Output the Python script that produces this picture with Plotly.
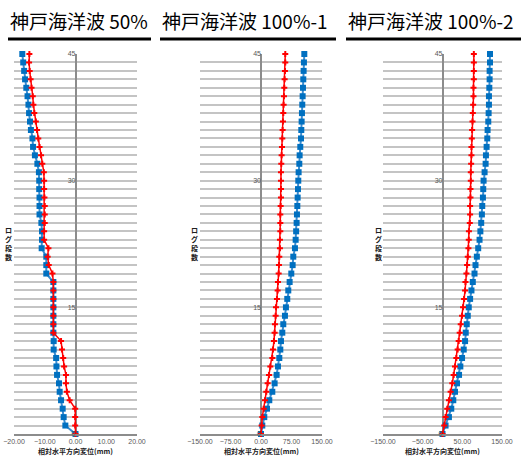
import plotly.graph_objects as go

levels = list(range(46))

titles = ["神戸海洋波 50%", "神戸海洋波 100%-1", "神戸海洋波 100%-2"]
x_title = "相対水平方向変位(mm)"
y_title = "ログ段数"

p1_red = [0, -0.1, -0.1, -0.1, -1.9, -2.8, -3.1, -3.1, -3.7, -4.0,
          -4.4, -4.7, -7.2, -7.2, -7.2, -7.2, -7.2, -7.2, -7.2, -7.5,
          -8.7, -9.05, -8.8, -10.2, -10.2, -10.0, -10.0, -10.0, -10.1, -10.2,
          -10.2, -10.3, -10.8, -11.2, -11.7, -12.1, -12.5, -12.9, -13.4, -13.7,
          -13.9, -14.3, -14.6, -14.9, -15.1, -15.0]
p1_blue = [0, -3.3, -3.85, -4.17, -4.7, -5.15, -5.37, -6.0, -6.2, -6.3,
           -7.1, -7.1, -7.2, -7.2, -7.2, -7.2, -7.2, -7.2, -7.2, -9.5,
           -9.5, -9.5, -11.0, -10.9, -10.9, -11.1, -11.7, -11.7, -11.7, -11.8,
           -11.8, -11.9, -12.4, -13.2, -13.8, -14.0, -14.5, -14.8, -15.1, -15.3,
           -15.6, -16.0, -16.4, -16.7, -17.0, -17.3]

p2_red = [0, 1.5, 3.2, 6.5, 9.8, 13.0, 16.3, 19.6, 22.9, 27.8,
          29.4, 31.9, 33.5, 34.3, 36.0, 36.8, 39.3, 40.9, 41.7, 43.4,
          44.2, 45.0, 46.6, 46.6, 47.5, 47.5, 47.5, 48.3, 49.1, 49.1,
          49.1, 49.1, 49.9, 50.7, 51.6, 52.4, 53.2, 54.0, 54.8, 55.6,
          56.5, 57.3, 58.1, 58.9, 59.7, 59.7]
p2_blue = [0, 3.2, 8.1, 14.7, 20.4, 27.8, 33.5, 38.4, 41.7, 45.0,
           47.5, 49.1, 52.4, 54.8, 58.9, 61.3, 64.6, 67.1, 70.4, 74.5,
           77.8, 79.4, 83.5, 85.2, 86.4, 87.6, 88.4, 89.3, 90.1, 90.9,
           91.7, 92.5, 94.2, 95.0, 96.6, 98.3, 99.1, 99.9, 100.7, 101.5,
           102.4, 103.2, 104.0, 104.8, 105.6, 106.5]

p3_red = [0, 4.3, 7.7, 12.0, 16.2, 20.4, 24.7, 28.1, 31.5, 34.9,
          38.2, 40.8, 43.3, 45.9, 49.3, 51.8, 54.4, 56.9, 57.8, 60.3,
          62.0, 63.7, 65.4, 66.2, 66.6, 68.8, 69.6, 69.6, 70.5, 70.5,
          71.3, 71.3, 72.2, 73.0, 73.0, 73.9, 74.7, 75.6, 76.4, 77.3,
          78.1, 78.1, 79.0, 79.0, 79.0, 79.0]
p3_blue = [0, 7.7, 16.2, 22.1, 27.2, 31.5, 36.6, 41.7, 45.0, 49.3,
           53.5, 56.9, 58.6, 61.1, 63.7, 66.2, 69.6, 73.0, 76.4, 80.7,
           83.2, 86.6, 90.0, 93.4, 95.5, 97.6, 99.3, 100.2, 101.9, 102.7,
           103.6, 106.1, 108.7, 109.5, 111.2, 112.9, 113.7, 115.4, 116.3, 117.1,
           117.1, 118.0, 118.8, 118.8, 119.7, 119.7]

x_ranges = [[-20, 20], [-150, 150], [-150, 150]]
x_tick0 = [-20, -150, -150]
x_dtick = [10, 75, 100]
y_ticks = [0, 15, 30, 45]

W, H = 526, 456
px_domains = [(14, 137), (200, 322), (383, 502)]
x_domains = [(a / W, b / W) for a, b in px_domains]
y_domain = [(H - 434) / H, (H - 54) / H]

series = [(p1_red, p1_blue), (p2_red, p2_blue), (p3_red, p3_blue)]

BLUE = "#0070C0"
RED = "#FF0000"

fig = go.Figure()
layout = dict(
    width=W, height=H,
    margin=dict(l=0, r=0, t=0, b=0, pad=0, autoexpand=False),
    paper_bgcolor="white", plot_bgcolor="white",
    showlegend=False,
    font=dict(family="Noto Sans CJK JP", color="#595959"),
)
annotations = []
shapes = []

title_spans = [(8, 151), (160, 336), (346, 521)]

for i, (red, blue) in enumerate(series):
    n = "" if i == 0 else str(i + 1)
    xa, ya = "x" + n, "y" + n
    fig.add_trace(go.Scatter(
        x=blue, y=levels, xaxis=xa, yaxis=ya, mode="lines+markers",
        line=dict(color="#3C8DD0", width=2),
        marker=dict(symbol="square", size=6, color=BLUE),
        cliponaxis=False))
    fig.add_trace(go.Scatter(
        x=red, y=levels, xaxis=xa, yaxis=ya, mode="lines+markers",
        line=dict(color=RED, width=1.5),
        marker=dict(symbol="cross", size=5, color=RED),
        cliponaxis=False))
    d0, d1 = x_domains[i]
    layout["xaxis" + n] = dict(
        domain=[d0, d1], range=x_ranges[i], anchor=ya,
        tickmode="linear", tick0=x_tick0[i], dtick=x_dtick[i],
        tickformat=".2f", showgrid=False, automargin=False,
        zeroline=True, zerolinecolor="#8c8c8c", zerolinewidth=1.5,
        showline=True, linecolor="#8c8c8c", linewidth=1.5,
        ticks="", tickfont=dict(size=7, color="#595959",
                                family="Liberation Sans"),
        fixedrange=True,
    )
    layout["yaxis" + n] = dict(
        domain=y_domain, range=[0, 45], anchor="free",
        position=(d0 + d1) / 2, automargin=False,
        tickmode="array", tickvals=levels,
        ticktext=[str(v) if v in y_ticks else "" for v in levels],
        showgrid=True, gridcolor="#c4c4c4", gridwidth=2,
        zeroline=False, showline=False, ticks="",
        tickfont=dict(size=7, color="#595959", family="Liberation Sans"),
        fixedrange=True,
    )

    # titles
    a, b = title_spans[i]
    annotations.append(dict(
        text=titles[i], xref="paper", yref="paper",
        x=a / W, y=(H - 21) / H, xanchor="left", yanchor="middle",
        showarrow=False,
        font=dict(size=19, color="black", family="Noto Sans CJK JP")))
    shapes.append(dict(type="line", xref="paper", yref="paper",
                       x0=a / W, x1=b / W, y0=(H - 39) / H, y1=(H - 39) / H,
                       line=dict(color="black", width=3)))
    # x-axis title
    annotations.append(dict(
        text="<b>" + x_title + "</b>", xref="paper", yref="paper",
        x=(d0 + d1) / 2, y=(H - 451) / H, xanchor="center", yanchor="middle",
        showarrow=False,
        font=dict(size=7, color="#202020", family="Noto Sans CJK JP")))
    # y-axis title (stacked vertical)
    yx = [8, 194, 378][i]
    annotations.append(dict(
        text="<b>" + "<br>".join(list(y_title)) + "</b>",
        xref="paper", yref="paper",
        x=yx / W, y=(H - 243) / H, xanchor="center", yanchor="middle",
        showarrow=False,
        font=dict(size=7, color="#202020", family="Noto Sans CJK JP")))

layout["annotations"] = annotations
layout["shapes"] = shapes
fig.update_layout(**layout)
fig.write_html("out.html", config={"displayModeBar": False},
               post_script="document.body.style.margin='0px';")
